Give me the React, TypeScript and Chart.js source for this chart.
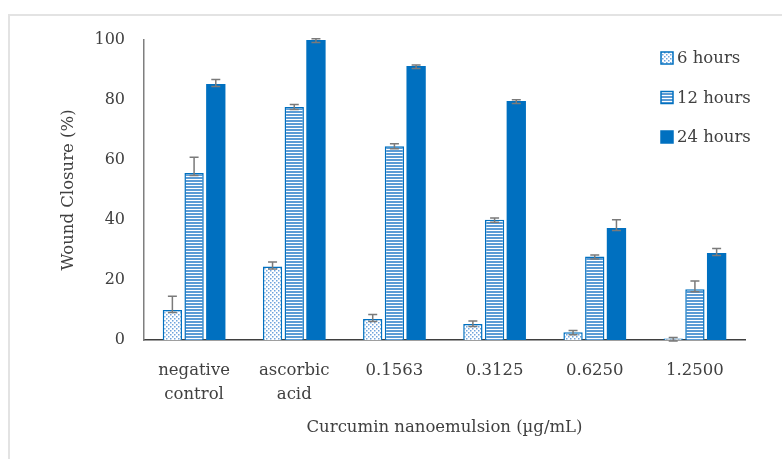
import { useEffect, useRef } from "react";
import { Chart, registerables } from "chart.js";

Chart.register(...registerables);

const categories: (string | string[])[] = [
  ["negative", "control"],
  ["ascorbic", "acid"],
  "0.1563",
  "0.3125",
  "0.6250",
  "1.2500",
];
const seriesLabels = ["6 hours", "12 hours", "24 hours"];
const values6h = [10.0, 24.5, 7.0, 5.3, 2.6, 0.5];
const values12h = [55.7, 77.7, 64.6, 40.1, 27.8, 16.9];
const values24h = [85.3, 100.0, 91.3, 79.7, 37.3, 29.0];
const err6h = [4.6, 1.5, 1.5, 1.0, 0.6, 0.3];
const err12h = [5.2, 0.8, 0.8, 0.6, 0.5, 2.8];
const err24h = [1.5, 0.4, 0.4, 0.4, 2.8, 1.5];
const yMin = 0;
const yMax = 100;
const yStep = 20;
const xTitle = "Curcumin nanoemulsion (µg/mL)";
const yTitle = "Wound Closure (%)";

const FONT = "'DejaVu Serif', serif";
const TEXT = "#404040";
const BLUE = "#0070C0";

function makeDots(): CanvasPattern | string {
  const c = document.createElement("canvas");
  c.width = 4;
  c.height = 4;
  const g = c.getContext("2d");
  if (!g) return "#ffffff";
  g.fillStyle = "#ffffff";
  g.fillRect(0, 0, 4, 4);
  g.fillStyle = "#6fa3dc";
  g.fillRect(0, 0, 1.5, 1.5);
  g.fillRect(2, 2, 1.5, 1.5);
  return g.createPattern(c, "repeat") || "#ffffff";
}

function makeStripes(): CanvasPattern | string {
  const c = document.createElement("canvas");
  c.width = 4;
  c.height = 3;
  const g = c.getContext("2d");
  if (!g) return "#5b9bd5";
  g.fillStyle = "#ffffff";
  g.fillRect(0, 0, 4, 3);
  g.fillStyle = "#5b9bd5";
  g.fillRect(0, 0, 4, 2);
  return g.createPattern(c, "repeat") || "#5b9bd5";
}

const errorSets = [err6h, err12h, err24h];

const errorBarsPlugin = {
  id: "errorBars",
  afterDatasetsDraw(chart: any) {
    const ctx = chart.ctx;
    const ys = chart.scales.y;
    ctx.save();
    ctx.strokeStyle = "#7a7a7a";
    ctx.lineWidth = 1.5;
    chart.data.datasets.forEach((ds: any, di: number) => {
      const meta = chart.getDatasetMeta(di);
      const errs = errorSets[di];
      meta.data.forEach((bar: any, i: number) => {
        const v = ds.data[i] as number;
        const e = errs[i];
        const x = bar.x;
        const yTop = ys.getPixelForValue(v + e);
        const yLow = ys.getPixelForValue(v) + 2.5;
        const cap = 4.5;
        ctx.beginPath();
        ctx.moveTo(x, yLow);
        ctx.lineTo(x, yTop);
        ctx.moveTo(x - cap, yTop);
        ctx.lineTo(x + cap, yTop);
        ctx.moveTo(x - cap, yLow);
        ctx.lineTo(x + cap, yLow);
        ctx.stroke();
      });
    });
    ctx.restore();
  },
};

const framePlugin = {
  id: "frame",
  beforeDraw(chart: any) {
    const ctx = chart.ctx;
    ctx.save();
    ctx.fillStyle = "#ffffff";
    ctx.fillRect(0, 0, chart.width, chart.height);
    ctx.strokeStyle = "#e3e3e3";
    ctx.lineWidth = 2;
    ctx.beginPath();
    ctx.moveTo(9, chart.height);
    ctx.lineTo(9, 15);
    ctx.lineTo(chart.width, 15);
    ctx.stroke();
    ctx.restore();
  },
};

const legendPlugin = {
  id: "customLegend",
  afterDraw(chart: any) {
    const ctx = chart.ctx;
    ctx.save();
    ctx.font = `16.5px ${FONT}`;
    ctx.textBaseline = "middle";
    ctx.textAlign = "left";
    chart.data.datasets.forEach((ds: any, i: number) => {
      const cy = 58 + i * 39.5;
      const bx = 661;
      const size = 12;
      ctx.fillStyle = ds.backgroundColor;
      ctx.fillRect(bx, cy - size / 2, size, size);
      ctx.strokeStyle = ds.borderColor;
      ctx.lineWidth = 1.5;
      ctx.strokeRect(bx, cy - size / 2, size, size);
      ctx.fillStyle = TEXT;
      ctx.fillText(ds.label, 677, cy + 1);
    });
    ctx.restore();
  },
};

export default function App() {
  const ref = useRef<HTMLCanvasElement | null>(null);

  useEffect(() => {
    const canvas = ref.current;
    if (!canvas) return;
    const dots = makeDots();
    const stripes = makeStripes();
    const chart = new Chart(canvas, {
      type: "bar",
      data: {
        labels: categories,
        datasets: [
          {
            label: seriesLabels[0],
            data: values6h,
            backgroundColor: dots as any,
            borderColor: BLUE,
            borderWidth: 1.5,
          },
          {
            label: seriesLabels[1],
            data: values12h,
            backgroundColor: stripes as any,
            borderColor: BLUE,
            borderWidth: 1.5,
          },
          {
            label: seriesLabels[2],
            data: values24h,
            backgroundColor: BLUE,
            borderColor: BLUE,
            borderWidth: 0,
          },
        ],
      },
      options: {
        responsive: false,
        animation: false,
        devicePixelRatio: 1,
        layout: { padding: { top: 40, right: 37, left: 40, bottom: 0 } },
        datasets: {
          bar: { categoryPercentage: 0.65, barPercentage: 0.89 },
        },
        plugins: {
          legend: { display: false },
          tooltip: { enabled: false },
          title: { display: false },
        },
        scales: {
          x: {
            grid: { display: false, drawTicks: false },
            border: { display: true, color: "#3f3f3f", width: 1.5 },
            ticks: {
              font: { family: FONT, size: 16.5, lineHeight: 1.5 },
              color: TEXT,
              padding: 18,
              maxRotation: 0,
              autoSkip: false,
            },
            title: {
              display: true,
              text: xTitle,
              font: { family: FONT, size: 16.5 },
              color: TEXT,
              padding: { top: 0, bottom: 21 },
            },
            afterFit(scale: any) {
              scale.height = 119;
            },
          },
          y: {
            min: yMin,
            max: yMax,
            grid: { display: false, drawTicks: false },
            border: { display: true, color: "#7f7f7f", width: 1.5 },
            ticks: {
              stepSize: yStep,
              font: { family: FONT, size: 16 },
              color: TEXT,
              padding: 19,
            },
            title: {
              display: true,
              text: yTitle,
              font: { family: FONT, size: 16.5 },
              color: TEXT,
              padding: { top: 19, bottom: 0 },
            },
            afterFit(scale: any) {
              scale.width = 104;
            },
          },
        },
      },
      plugins: [framePlugin, errorBarsPlugin, legendPlugin],
    });
    return () => chart.destroy();
  }, []);

  return (
    <div style={{ position: "fixed", left: 0, top: 0, width: 782, height: 459, background: "#fff" }}>
      <canvas ref={ref} width={782} height={459} style={{ width: 782, height: 459, display: "block" }} />
    </div>
  );
}
